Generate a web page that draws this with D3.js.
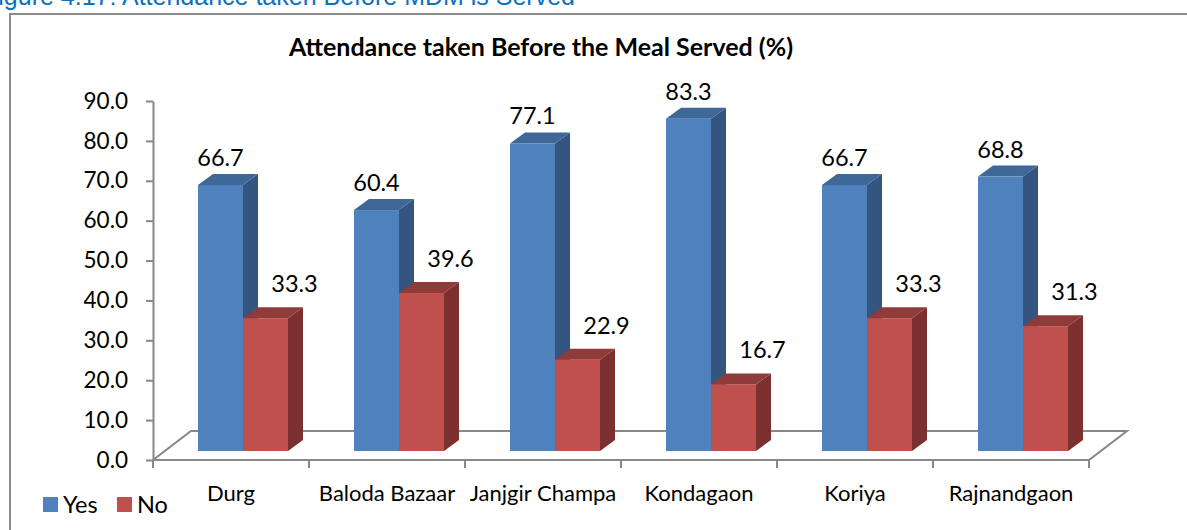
<!DOCTYPE html>
<html>
<head>
<meta charset="utf-8">
<script src="https://cdn.jsdelivr.net/npm/d3@7"></script>
<style>
  html, body { margin: 0; padding: 0; background: #ffffff; overflow: hidden; }
  svg { display: block; }
</style>
</head>
<body>
<svg id="chart" width="1187" height="530"></svg>
<script>
// ---- data ----
const categories = ["Durg", "Baloda Bazaar", "Janjgir Champa", "Kondagaon", "Koriya", "Rajnandgaon"];
const seriesNames = ["Yes", "No"];
const yesValues = [66.7, 60.4, 77.1, 83.3, 66.7, 68.8];
const noValues = [33.3, 39.6, 22.9, 16.7, 33.3, 31.3];
const yTickValues = [0, 10, 20, 30, 40, 50, 60, 70, 80, 90];
const chartTitle = "Attendance taken Before the Meal Served (%)";
const captionText = "Figure 4.17:  Attendance taken Before MDM is Served";

// ---- styles ----
const FONT = "Lato, 'Open Sans', sans-serif";
const colors = {
  Yes: { front: "#4F81BD", side: "#34557F", top: "#3F6797" },
  No:  { front: "#C0504D", side: "#7B2F2E", top: "#8E3B39" }
};
const axisColor = "#878787";
const labelStyle = {
  Yes: { dx: 0, gap: 19 },
  No:  { dx: 29, gap: 26 }
};

const svg = d3.select("#chart");

// caption (clipped at top of page, as in the source image)
svg.append("text")
  .attr("x", 575).attr("y", 5)
  .attr("text-anchor", "end")
  .attr("font-family", "'Liberation Sans', Arial, sans-serif")
  .attr("font-size", 25)
  .attr("fill", "#0B72BE")
  .text(captionText);

// chart border
svg.append("rect")
  .attr("x", 10).attr("y", 14)
  .attr("width", 1200).attr("height", 540)
  .attr("fill", "none")
  .attr("stroke", "#8A8A8A")
  .attr("stroke-width", 2);

// title
svg.append("text")
  .attr("x", 541).attr("y", 56)
  .attr("text-anchor", "middle")
  .attr("font-family", FONT)
  .attr("font-weight", "bold")
  .attr("font-size", 25)
  .attr("fill", "#000")
  .text(chartTitle);

// ---- scales ----
const x = d3.scaleBand().domain(categories).range([153, 1089]).paddingInner(0).paddingOuter(0);
const y = d3.scaleLinear().domain([0, 90]).range([460, 101]);
const inner = d3.scaleBand().domain(seriesNames).range([33, 123]);

// 3D offsets
const floorDX = 38, floorDY = -29;   // depth of floor
const shiftDX = 12, shiftDY = -9;    // bar plane offset from front plane
const barDX = 15, barDY = -11;       // depth of each bar

// ---- floor ----
const x0 = x.range()[0], x1 = x.range()[1], y0 = y(0);
svg.append("path")
  .attr("d", `M${x0},${y0} L${x0 + floorDX},${y0 + floorDY} L${x1 + floorDX},${y0 + floorDY} L${x1},${y0} Z`)
  .attr("fill", "none")
  .attr("stroke", axisColor)
  .attr("stroke-width", 2);

// ---- y axis ----
const yAxis = d3.axisLeft(y)
  .tickValues(yTickValues)
  .tickFormat(d3.format(".1f"))
  .tickSize(7)
  .tickSizeOuter(0)
  .tickPadding(18);
const gy = svg.append("g").attr("transform", `translate(${x0},0)`).call(yAxis);
gy.selectAll("path.domain").attr("stroke", axisColor).attr("stroke-width", 2);
gy.selectAll(".tick line").attr("stroke", axisColor).attr("stroke-width", 2);
gy.selectAll(".tick text")
  .attr("font-family", FONT).attr("font-size", 22.5).attr("fill", "#000");

// bottom category boundary ticks
const boundaries = categories.map(c => x(c)).concat([x1]);
svg.append("g").selectAll("line").data(boundaries).join("line")
  .attr("x1", d => d).attr("x2", d => d)
  .attr("y1", y0).attr("y2", y0 + 8)
  .attr("stroke", axisColor).attr("stroke-width", 2);

// category labels via axis
const xAxis = d3.axisBottom(x).tickSize(0).tickSizeOuter(0).tickPadding(25);
const gx = svg.append("g").attr("transform", `translate(0,${y0})`).call(xAxis);
gx.select("path.domain").remove();
gx.selectAll(".tick text")
  .attr("font-family", FONT).attr("font-size", 22).attr("fill", "#000");

// ---- bars ----
const rows = categories.map((c, i) => ({ cat: c, Yes: yesValues[i], No: noValues[i] }));
const bars = [];
rows.forEach(r => seriesNames.forEach(s => bars.push({ cat: r.cat, series: s, value: r[s] })));

const gBars = svg.append("g");
bars.forEach(b => {
  const left = x(b.cat) + inner(b.series) + shiftDX;
  const w = inner.bandwidth();
  const bottom = y(0) + shiftDY;
  const top = y(b.value) + shiftDY;
  const c = colors[b.series];
  const g = gBars.append("g");
  g.append("path")
    .attr("d", `M${left + w},${bottom} L${left + w + barDX},${bottom + barDY} L${left + w + barDX},${top + barDY} L${left + w},${top} Z`)
    .attr("fill", c.side);
  g.append("path")
    .attr("d", `M${left},${top} L${left + barDX},${top + barDY} L${left + w + barDX},${top + barDY} L${left + w},${top} Z`)
    .attr("fill", c.top);
  g.append("rect")
    .attr("x", left).attr("y", top)
    .attr("width", w).attr("height", bottom - top)
    .attr("fill", c.front);
});

// value labels drawn after all bars
bars.forEach(b => {
  const left = x(b.cat) + inner(b.series) + shiftDX;
  const w = inner.bandwidth();
  const top = y(b.value) + shiftDY;
  const ls = labelStyle[b.series];
  svg.append("text")
    .attr("x", left + w / 2 + ls.dx)
    .attr("y", top - ls.gap)
    .attr("text-anchor", "middle")
    .attr("font-family", FONT).attr("font-size", 23.5).attr("fill", "#000")
    .text(d3.format(".1f")(b.value));
});

// ---- legend ----
const legendX = d3.scaleOrdinal().domain(seriesNames).range([43, 117]);
const gl = svg.append("g");
seriesNames.forEach(s => {
  gl.append("rect")
    .attr("x", legendX(s)).attr("y", 497)
    .attr("width", 15).attr("height", 15)
    .attr("fill", colors[s].front);
  gl.append("text")
    .attr("x", legendX(s) + 20).attr("y", 513)
    .attr("font-family", FONT).attr("font-size", 23.5).attr("fill", "#000")
    .text(s);
});
</script>
</body>
</html>
